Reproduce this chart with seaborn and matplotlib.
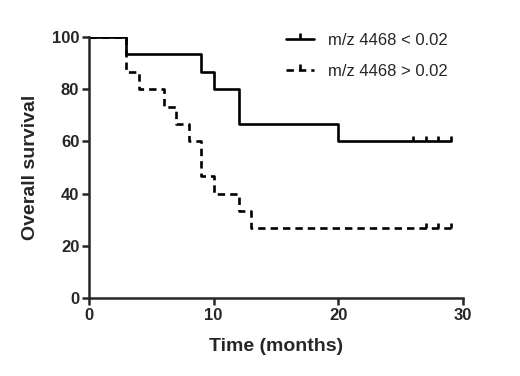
import numpy as np
import pandas as pd
import matplotlib
matplotlib.use("Agg")
import matplotlib.pyplot as plt
from matplotlib.path import Path
from matplotlib.lines import Line2D
import seaborn as sns

# ---- data ----
low_label = "m/z 4468 < 0.02"
high_label = "m/z 4468 > 0.02"
low_time = [0, 3, 9, 10, 12, 20, 29]
low_surv = [100, 93.33, 86.67, 80.0, 66.67, 60.0, 60.0]
low_censor = [26, 27, 28, 29]
high_time = [0, 3, 4, 6, 7, 8, 9, 10, 12, 13, 29]
high_surv = [100, 86.67, 80.0, 73.33, 66.67, 60.0, 46.67, 40.0, 33.33, 26.67, 26.67]
high_censor = [27, 28, 29]
x_ticks = [0, 10, 20, 30]
y_ticks = [0, 20, 40, 60, 80, 100]

sns.set_style("ticks")
plt.rcParams["font.family"] = ["Liberation Sans", "DejaVu Sans"]

fig = plt.figure(figsize=(5.2, 3.76), dpi=100)
ax = fig.add_axes([89 / 520, 1 - 298 / 376, (463 - 89) / 520, (298 - 37) / 376])

tick_marker = Path([(0, 0), (0, 1)], [Path.MOVETO, Path.LINETO])
lw = 1.9
dash = (2.8, 1.9)

df_low = pd.DataFrame({"t": low_time, "s": low_surv})
df_high = pd.DataFrame({"t": high_time, "s": high_surv})
sns.lineplot(data=df_low, x="t", y="s", ax=ax, drawstyle="steps-post",
             color="black", lw=lw, estimator=None, sort=False)
sns.lineplot(data=df_high, x="t", y="s", ax=ax, drawstyle="steps-post",
             color="black", lw=lw, estimator=None, sort=False, dashes=False,
             linestyle=(0, dash))

def surv_at(times, survs, t):
    idx = np.searchsorted(times, t, side="right") - 1
    return survs[idx]

cl = pd.DataFrame({"t": low_censor, "s": [surv_at(low_time, low_surv, t) for t in low_censor]})
ch = pd.DataFrame({"t": high_censor, "s": [surv_at(high_time, high_surv, t) for t in high_censor]})
for d in (cl, ch):
    sns.scatterplot(data=d, x="t", y="s", ax=ax, marker=tick_marker, s=60,
                    color="black", linewidth=lw, edgecolor="black")

ax.set_xlim(0, 30)
ax.set_ylim(0, 100)
ax.set_xticks(x_ticks)
ax.set_yticks(y_ticks)
ax.tick_params(axis="both", direction="out", length=5, width=1.8, labelsize=12, pad=2)
for lab in ax.get_xticklabels() + ax.get_yticklabels():
    lab.set_fontweight("bold")
for sp in ("left", "bottom"):
    ax.spines[sp].set_linewidth(1.8)
sns.despine(ax=ax)
ax.set_xlabel("Time (months)", fontsize=14, fontweight="bold", labelpad=11)
ax.set_ylabel("Overall survival", fontsize=14, fontweight="bold", labelpad=9)

handles = [
    Line2D([], [], color="black", lw=lw, marker=tick_marker, markersize=8,
           markeredgewidth=lw),
    Line2D([], [], color="black", lw=lw, linestyle=(0, dash), marker=tick_marker,
           markersize=8, markeredgewidth=lw),
]
fig.legend(handles, [low_label, high_label], loc="upper left",
           bbox_to_anchor=(286 / 520, 1 - 33 / 376), frameon=False,
           fontsize=12, handlelength=1.65, handletextpad=0.9, labelspacing=0.95,
           borderpad=0, borderaxespad=0, numpoints=1)

fig.savefig("out.png", dpi=100)
